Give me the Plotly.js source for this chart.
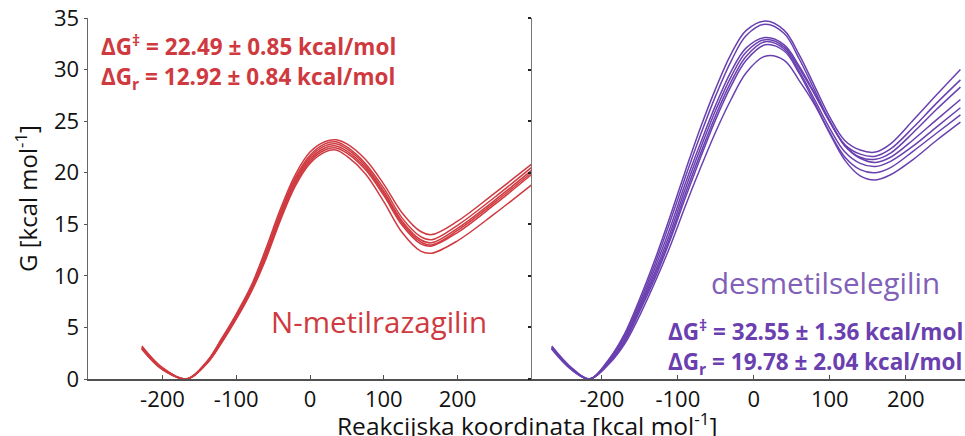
<!DOCTYPE html>
<html>
<head>
<meta charset="utf-8">
<script src="https://cdn.plot.ly/plotly-3.0.1.min.js"></script>
<style>html,body{margin:0;padding:0;background:#fff;}#chart{width:965px;height:436px;}</style>
</head>
<body>
<div id="chart"></div>
<script>
// Reaction coordinate samples (kcal mol^-1)
const xLeft = [-228, -200, -167, -140, -120, -100, -80, -60, -40, -20, 0, 20, 35, 50, 75, 100, 125, 150, 165, 200, 250, 300];
const xRight = [-266, -240, -216, -190, -170, -150, -130, -110, -90, -70, -50, -30, -10, 15, 40, 60, 80, 100, 120, 140, 160, 180, 210, 240, 272];

// N-metilrazagilin free energy profiles (kcal/mol)
const red1 = [3.2, 1.1, 0.0, 1.7, 3.9, 6.3, 9.0, 12.6, 16.5, 19.8, 22.0, 23.0, 23.2, 22.8, 21.3, 18.9, 16.1, 14.3, 14.0, 15.3, 18.0, 20.8];
const red2 = [3.1, 1.0, 0.0, 1.6, 3.8, 6.2, 8.8, 12.3, 16.2, 19.5, 21.7, 22.8, 23.0, 22.5, 20.9, 18.5, 15.6, 13.8, 13.5, 14.9, 17.6, 20.5];
const red3 = [3.0, 1.0, 0.0, 1.6, 3.7, 6.1, 8.7, 12.1, 16.0, 19.3, 21.5, 22.6, 22.8, 22.3, 20.7, 18.2, 15.3, 13.5, 13.2, 14.6, 17.3, 20.2];
const red4 = [3.0, 1.0, 0.0, 1.5, 3.6, 6.0, 8.6, 11.9, 15.8, 19.1, 21.3, 22.4, 22.6, 22.1, 20.5, 18.0, 15.1, 13.3, 13.0, 14.4, 17.1, 20.0];
const red5 = [2.9, 0.9, 0.0, 1.5, 3.5, 5.9, 8.5, 11.8, 15.6, 18.9, 21.1, 22.2, 22.4, 21.9, 20.3, 17.8, 14.9, 13.1, 12.9, 14.2, 16.9, 19.8];
const red6 = [2.9, 0.9, 0.0, 1.5, 3.5, 5.8, 8.4, 11.6, 15.4, 18.7, 20.9, 22.0, 22.2, 21.6, 19.9, 17.2, 14.2, 12.4, 12.2, 13.4, 16.0, 18.8];

// desmetilselegilin free energy profiles (kcal/mol)
const pur1 = [3.2, 1.1, 0.0, 2.0, 4.4, 7.8, 11.6, 15.8, 20.2, 24.4, 28.2, 31.5, 33.8, 34.7, 33.8, 31.4, 28.4, 25.4, 23.1, 22.2, 22.0, 22.8, 25.1, 27.5, 30.0];
const pur2 = [3.1, 1.0, 0.0, 1.9, 4.2, 7.5, 11.2, 15.3, 19.6, 23.7, 27.5, 30.8, 33.3, 34.4, 33.5, 31.0, 28.0, 25.0, 22.7, 21.8, 21.6, 22.3, 24.4, 26.7, 29.0];
const pur3 = [3.0, 1.0, 0.0, 1.8, 4.0, 7.2, 10.8, 14.7, 19.0, 22.9, 26.6, 29.8, 32.1, 33.1, 32.4, 30.3, 27.7, 25.0, 22.6, 21.5, 21.3, 21.9, 23.9, 26.1, 28.3];
const pur4 = [3.0, 1.0, 0.0, 1.7, 3.8, 7.0, 10.4, 14.2, 18.5, 22.4, 26.1, 29.3, 31.7, 32.9, 32.2, 30.1, 27.6, 24.9, 22.6, 21.4, 21.0, 21.5, 23.2, 25.1, 27.1];
const pur5 = [3.0, 1.0, 0.0, 1.6, 3.7, 6.8, 10.1, 13.8, 18.0, 21.9, 25.6, 28.8, 31.3, 32.7, 32.0, 29.8, 27.1, 24.3, 22.0, 20.9, 20.6, 21.1, 22.6, 24.4, 26.3];
const pur6 = [2.9, 0.9, 0.0, 1.6, 3.6, 6.6, 9.8, 13.5, 17.6, 21.5, 25.2, 28.4, 30.9, 32.4, 31.8, 29.6, 26.8, 23.9, 21.5, 20.3, 20.0, 20.5, 22.1, 23.8, 25.6];
const pur7 = [2.9, 0.9, 0.0, 1.5, 3.4, 6.2, 9.4, 12.9, 16.8, 20.5, 24.0, 27.1, 29.7, 31.3, 30.9, 28.9, 26.6, 23.8, 21.2, 19.7, 19.3, 19.8, 21.3, 23.1, 24.9];

const yTicks = [0, 5, 10, 15, 20, 25, 30, 35];
const xTicks = [-200, -100, 0, 100, 200];
const xTopTicks = [-240, -120, 0, 120, 240];

const redSeries = [red1, red2, red3, red4, red5, red6];
const purSeries = [pur1, pur2, pur3, pur4, pur5, pur6, pur7];

const RED = '#cf3a40';
const PUR = '#6a40b0';

const traces = [];
redSeries.forEach(s => traces.push({
  x: xLeft, y: s, xaxis: 'x', yaxis: 'y', mode: 'lines',
  line: {color: RED, width: 1.5, shape: 'spline', smoothing: 1}, hoverinfo: 'skip', showlegend: false
}));
purSeries.forEach(s => traces.push({
  x: xRight, y: s, xaxis: 'x2', yaxis: 'y2', mode: 'lines',
  line: {color: PUR, width: 1.5, shape: 'spline', smoothing: 1}, hoverinfo: 'skip', showlegend: false
}));

const FONT = 'Open Sans, Noto Sans, sans-serif';
const split = (532 - 88) / 877;
const lineCol = '#505050';
const TICKFONT = {family: FONT, size: 22, color: '#111'};

const layout = {
  width: 965, height: 436,
  margin: {l: 88, r: 0, t: 17.5, b: 57, pad: 0},
  paper_bgcolor: '#fff', plot_bgcolor: '#fff',
  font: {family: FONT, size: 22, color: '#111'},
  showlegend: false,
  xaxis: {
    domain: [0, split], range: [-301, 301], anchor: 'y',
    tickvals: xTicks, ticktext: xTicks.map(String), ticks: 'inside', ticklen: 4, tickcolor: lineCol,
    showline: true, linecolor: lineCol, linewidth: 1.5, showgrid: false, zeroline: false,
    tickfont: TICKFONT
  },
  xaxis3: {
    overlaying: 'x', side: 'top', anchor: 'y', range: [-301, 301],
    tickvals: xTopTicks, ticks: 'inside', ticklen: 4, tickcolor: lineCol, showticklabels: false,
    showline: true, linecolor: lineCol, linewidth: 1.5, showgrid: false, zeroline: false
  },
  yaxis: {
    domain: [0, 1], range: [0, 35], anchor: 'x',
    tickvals: yTicks, ticktext: yTicks.map(String), ticks: 'outside', ticklen: 3, tickcolor: lineCol,
    showline: true, linecolor: '#666', linewidth: 1.5, showgrid: false, zeroline: false,
    tickfont: TICKFONT,
    title: {text: 'G [kcal mol<sup>-1</sup>]', font: {family: FONT, size: 24, color: '#111'}, standoff: 9}
  },
  xaxis2: {
    domain: [split, 1], range: [-292, 278], anchor: 'y2',
    tickvals: xTicks, ticktext: xTicks.map(String), ticks: 'inside', ticklen: 4, tickcolor: lineCol,
    showline: true, linecolor: lineCol, linewidth: 1.5, showgrid: false, zeroline: false,
    tickfont: TICKFONT
  },
  xaxis4: {
    overlaying: 'x2', side: 'top', anchor: 'y2', range: [-292, 278],
    tickvals: xTopTicks, ticks: 'inside', ticklen: 4, tickcolor: lineCol, showticklabels: false,
    showline: true, linecolor: lineCol, linewidth: 1.5, showgrid: false, zeroline: false
  },
  yaxis2: {
    domain: [0, 1], range: [0, 35], anchor: 'x2',
    tickvals: yTicks, ticks: 'outside', ticklen: 3, tickwidth: 2, tickcolor: '#222', showticklabels: false,
    showline: true, linecolor: '#777', linewidth: 1.5, showgrid: false, zeroline: false
  },
  annotations: [
    {xref: 'x domain', yref: 'paper', x: 0.025, y: 0.924, xanchor: 'left', yanchor: 'middle', showarrow: false,
     text: '<b>ΔG<sup>‡</sup> = 22.49 ± 0.85 kcal/mol</b>', font: {family: FONT, size: 22.5, color: RED}},
    {xref: 'x domain', yref: 'paper', x: 0.025, y: 0.835, xanchor: 'left', yanchor: 'middle', showarrow: false,
     text: '<b>ΔG<sub>r</sub> = 12.92 ± 0.84 kcal/mol</b>', font: {family: FONT, size: 22.5, color: RED}},
    {xref: 'x domain', yref: 'paper', x: 0.408, y: 0.158, xanchor: 'left', yanchor: 'middle', showarrow: false,
     text: 'N-metilrazagilin', font: {family: FONT, size: 29.5, color: RED}},
    {xref: 'x2 domain', yref: 'paper', x: 0.409, y: 0.268, xanchor: 'left', yanchor: 'middle', showarrow: false,
     text: 'desmetilselegilin', font: {family: FONT, size: 29.5, color: '#8060b8'}},
    {xref: 'x2 domain', yref: 'paper', x: 0.309, y: 0.1355, xanchor: 'left', yanchor: 'middle', showarrow: false,
     text: '<b>ΔG<sup>‡</sup> = 32.55 ± 1.36 kcal/mol</b>', font: {family: FONT, size: 22.5, color: PUR}},
    {xref: 'x2 domain', yref: 'paper', x: 0.309, y: 0.044, xanchor: 'left', yanchor: 'middle', showarrow: false,
     text: '<b>ΔG<sub>r</sub> = 19.78 ± 2.04 kcal/mol</b>', font: {family: FONT, size: 22.5, color: PUR}},
    {xref: 'paper', yref: 'paper', x: 0.5006, y: 0, yshift: -45, xanchor: 'center', yanchor: 'middle', showarrow: false,
     text: 'Reakcijska koordinata [kcal mol<sup>-1</sup>]', font: {family: FONT, size: 24.5, color: '#111'}}
  ]
};

Plotly.newPlot('chart', traces, layout, {displayModeBar: false, staticPlot: true});
</script>
</body>
</html>
